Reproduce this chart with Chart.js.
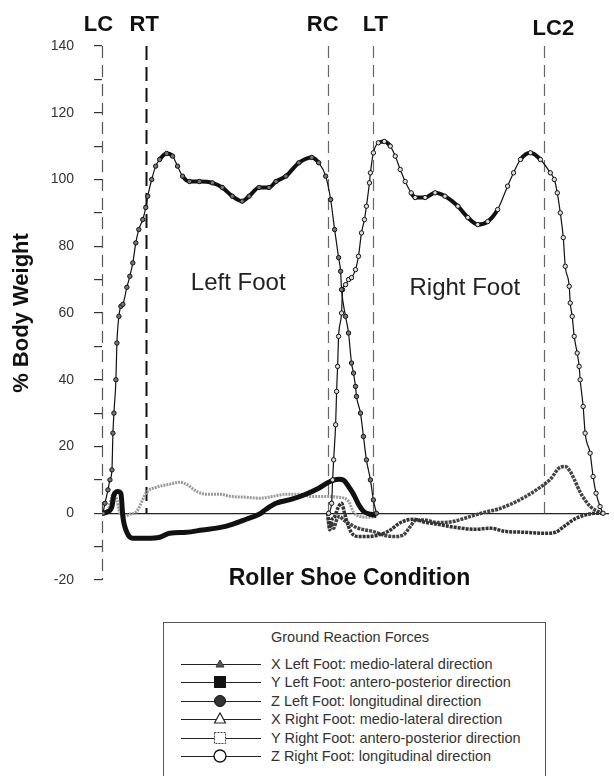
<!DOCTYPE html>
<html>
<head>
<meta charset="utf-8">
<script src="https://cdn.jsdelivr.net/npm/chart.js@4/dist/chart.umd.min.js"></script>
<style>
html,body{margin:0;padding:0;background:#fff;}
#wrap{position:relative;width:614px;height:776px;overflow:hidden;}
#chartBox{position:absolute;left:0;top:0;width:614px;height:776px;}
#legend{position:absolute;left:163px;top:622px;width:383px;height:170px;border:1px solid #555;box-sizing:border-box;
  font-family:'Liberation Sans',Arial,sans-serif;color:#333;font-size:14.5px;background:#fff;}
#legend .ttl{position:absolute;left:107px;top:6px;line-height:16px;white-space:nowrap;}
#legend .row{position:absolute;left:0;height:16px;width:380px;}
#legend .row svg{position:absolute;left:17px;top:0;}
#legend .row span{position:absolute;left:107px;top:0;line-height:16px;white-space:nowrap;}
</style>
</head>
<body>
<div id="wrap">
  <div id="chartBox"><canvas id="c"></canvas></div>
  <div id="legend"><div class="ttl" id="legendTitle"></div></div>
</div>
<script>
// ---------- DATA (frames along the stride, % body weight) ----------
const legendTitle = 'Ground Reaction Forces';
const seriesNames = [
  'X Left Foot: medio-lateral direction',
  'Y Left Foot: antero-posterior direction',
  'Z Left Foot: longitudinal direction',
  'X Right Foot: medio-lateral direction',
  'Y Right Foot: antero-posterior direction',
  'Z Right Foot: longitudinal direction'
];
const yTicks = [-20, 0, 20, 40, 60, 80, 100, 120, 140];
const yTitle = '% Body Weight';
const xTitle = 'Roller Shoe Condition';
const eventNames = ['LC', 'RT', 'RC', 'LT', 'LC2'];
const eventFrames = [0, 22, 113.5, 136.5, 222.5];
const regionNames = ['Left Foot', 'Right Foot'];

const xLeftFrames = [0,3,5,6,7.5,8.5,9.5,11.5,14,17.5,22.5,27.5,34,39,42.5,47.5,52.5,59,65.5,72.5,79,85.5,92.5,99,105.5,112.5,119,124,126.5,130,134,138];
const xLeftValues = [0,1,5,6,4,1,-0.5,-0.8,-0.3,0.6,6.3,7.8,8.7,9.3,8.7,6.6,5.7,5.7,5,4.8,4.5,5,5.7,5.7,5,5,4.8,3.6,0.3,-1,-1.2,-1];

const yLeftFrames = [0,3,5,6,8,9.5,10.5,12.5,15.5,22.5,29,34,42.5,50.5,59,65.5,72.5,79,82.5,87.5,95.5,102.5,109,115,119,121.5,124,126.5,129,131.5,135,138];
const yLeftValues = [0,0.5,2,5.5,6.5,6,-1,-5.7,-7.5,-7.5,-7.2,-6,-5.7,-5,-4.3,-3.3,-1.8,-0.3,1.2,3,4.2,5.7,7.5,9.6,10.2,9.9,8,5.7,2.7,0.6,-0.3,-0.6];

const zLeftFrames = [0.5,1.5,3,4,5,5.5,6,7,7.5,8.5,9.5,10.5,12.5,14,15.5,17,18.5,20.5,22,23,25,27,29,32.5,35.5,38,40.5,44,49,55.5,60.5,65.5,70.5,74,79,84,87.5,92.5,99,105.5,109,112.5,115,117,119,120,120.5,122.5,124,125.5,126.5,127.5,128,130,131.5,133,135,136.5,138];
const zLeftValues = [0,3,7,10,13,24,30,40,51,59,62,62.6,67.7,71,75,81,85,88,91.6,95,100,104,106,107.8,107,104,101,99.4,99.4,99,97.6,95,93.5,95,97.6,97.6,99.4,101,105,106.6,105,101,94,85,76.6,72.5,67,59,54,45,42,38,35,30,23,16,10,4,0];

const xRightFrames = [113.5,114.5,115.5,117,119,120.5,122,124,126.5,130,134,139,144,150.5,156.5,162.5,169,177.5,187.5,195.5,202.5,212.5,222.5,228,232.5,237.5,242.5,249,252];
const xRightValues = [0,-4,-2,-1,2,3,0,-4,-6.5,-7,-7,-6.5,-5.4,-2.7,-1.8,-2.7,-3.3,-4.2,-4.8,-4.5,-5.4,-5.7,-6,-5.7,-3.9,-1.8,-0.6,0,0];

const yRightFrames = [113.5,114.5,115.5,116.5,118,119.5,121.5,124,129,136.5,141.5,146.5,151.5,155,158,161.5,169,176.5,184,192.5,199,205.5,212.5,219,225.5,230.5,233,235.5,237.5,240.5,245.5,250.5,252];
const yRightValues = [0,-5,-3,-4.5,-2,-1,-2,-3,-4.5,-5.5,-6.5,-7,-6.5,-4,-2,-2,-2.8,-2.5,-1.2,0.3,1.2,2.7,4.8,7.2,10.2,13.8,14,12.5,10.2,6.3,2.1,0.3,0];

const zRightFrames = [114,115.5,116,116.5,117.5,118,118.5,119,120.5,121,122.5,124,125.5,127.5,129,130.5,132,133,134.5,135,136.5,139,142,145,147.5,150,152.5,155.5,157.5,162.5,167.5,172.5,179,184,189,194,199,204,207,210.5,215.5,220.5,225.5,227.5,229,230.5,232,233,235,235.5,236.5,237.5,239,240,240.5,242,243,245.5,247,248.5,250.5,252];
const zRightValues = [0,3,10,16,26.5,36.5,44,53,60,67,68.5,70,70.6,73,77,84,88,92,99,102,108,111,111.4,110,107,103,99.4,96,94.6,94.6,96,95,92,88.6,86.5,87.4,91,98,102,106,108,106,102,100,96,90,82.6,74,68,63,59,53,48,44,40,32,24,18,11,6,2,0];

// ---------- STYLE ----------
const FONT = "'Liberation Sans', Arial, sans-serif";
Chart.defaults.font.family = FONT;
const eventStyle = [
  {dx:-3.5, base:31, w:1.2, c:'#555', bottom:-20, dash:[12,7]},
  {dx:-1.5, base:31, w:2,   c:'#111', bottom:0,   dash:[14,7]},
  {dx:-5,   base:31, w:1.2, c:'#666', bottom:0,   dash:[12,7]},
  {dx:2,    base:31, w:1.2, c:'#666', bottom:0,   dash:[12,7]},
  {dx:9,    base:35, w:1.2, c:'#666', bottom:0,   dash:[12,7]}
];
const regionStyle = [{frame:68.5, level:69}, {frame:182.5, level:67.5}];

const pts = (fs, vs) => fs.map((f, i) => ({x: f, y: vs[i]}));
const slopeWidth = (thick, thin) => ctx => {
  const dx = Math.abs(ctx.p1.x - ctx.p0.x), dy = Math.abs(ctx.p1.y - ctx.p0.y);
  return dy < dx * 1.3 ? thick : thin;
};

const datasets = [
  {label: seriesNames[2], data: pts(zLeftFrames, zLeftValues), borderColor:'#111', borderWidth:1.2,
   segment:{borderWidth: slopeWidth(4, 1.2)}, pointRadius:2.2, pointBorderWidth:1,
   pointBackgroundColor:'#777', pointBorderColor:'#111', cubicInterpolationMode:'monotone'},
  {label: seriesNames[5], data: pts(zRightFrames, zRightValues), borderColor:'#111', borderWidth:1.2,
   segment:{borderWidth: slopeWidth(4, 1.2)}, pointRadius:2.2, pointBorderWidth:1,
   pointBackgroundColor:'#ddd', pointBorderColor:'#111', cubicInterpolationMode:'monotone'},
  {label: seriesNames[1], data: pts(yLeftFrames, yLeftValues), borderColor:'#111', borderWidth:5,
   pointRadius:0, cubicInterpolationMode:'monotone'},
  {label: seriesNames[0], data: pts(xLeftFrames, xLeftValues), borderColor:'#9a9a9a', borderWidth:3,
   borderDash:[2,1], pointRadius:0, cubicInterpolationMode:'monotone'},
  {label: seriesNames[3], data: pts(xRightFrames, xRightValues), borderColor:'#333', borderWidth:3.5,
   borderDash:[3,1], pointRadius:0, cubicInterpolationMode:'monotone'},
  {label: seriesNames[4], data: pts(yRightFrames, yRightValues), borderColor:'#444', borderWidth:3.5,
   borderDash:[3,1], pointRadius:0, cubicInterpolationMode:'monotone'}
];

const overlay = {
  id: 'overlay',
  beforeDatasetsDraw(chart) {
    const {ctx, scales: {x, y}} = chart;
    ctx.save();
    eventFrames.forEach((f, i) => {
      const st = eventStyle[i];
      const px = Math.round(x.getPixelForValue(f)) + 0.5;
      ctx.beginPath();
      ctx.setLineDash(st.dash);
      ctx.lineWidth = st.w;
      ctx.strokeStyle = st.c;
      ctx.moveTo(px, y.getPixelForValue(140));
      ctx.lineTo(px, y.getPixelForValue(st.bottom));
      ctx.stroke();
    });
    ctx.restore();
  },
  afterDraw(chart) {
    const {ctx, chartArea, scales: {x, y}} = chart;
    ctx.save();
    ctx.fillStyle = '#111';
    ctx.textAlign = 'center';
    ctx.textBaseline = 'alphabetic';
    ctx.font = 'bold 22px ' + FONT;
    eventFrames.forEach((f, i) => {
      ctx.fillText(eventNames[i], x.getPixelForValue(f) + eventStyle[i].dx, eventStyle[i].base);
    });
    ctx.font = '24px ' + FONT;
    ctx.fillStyle = '#222';
    ctx.textBaseline = 'middle';
    regionNames.forEach((t, i) => {
      ctx.fillText(t, x.getPixelForValue(regionStyle[i].frame), y.getPixelForValue(regionStyle[i].level));
    });
    ctx.font = 'bold 23px ' + FONT;
    ctx.fillStyle = '#111';
    ctx.textBaseline = 'alphabetic';
    ctx.fillText(xTitle, (chartArea.left + chartArea.right) / 2 - 6, chartArea.bottom + 5);
    ctx.restore();
  }
};

new Chart(document.getElementById('c'), {
  type: 'line',
  data: {datasets},
  options: {
    animation: false,
    responsive: true,
    maintainAspectRatio: false,
    layout: {padding: {left: 0, top: 46, right: 2, bottom: 196}},
    plugins: {legend: {display: false}, tooltip: {enabled: false}},
    scales: {
      x: {type: 'linear', min: 0, max: 255, display: false},
      y: {
        min: -20, max: 140,
        afterFit(s) { s.width = 102; },
        ticks: {stepSize: 10, color: '#333', padding: 20, font: {size: 14},
                callback: v => yTicks.includes(v) ? String(v) : ''},
        grid: {drawOnChartArea: true, tickLength: 8, tickColor: '#333', tickWidth: 1.2, lineWidth: 1.2,
               color: c => (c.tick && c.tick.value === 0) ? '#222' : 'rgba(0,0,0,0)'},
        border: {display: false},
        title: {display: true, text: yTitle, color: '#111', font: {size: 22, weight: 'bold'},
                padding: {top: 9, bottom: 0}}
      }
    }
  },
  plugins: [overlay]
});

// ---------- HTML legend ----------
document.getElementById('legendTitle').textContent = legendTitle;
const markerSvg = [
  '<polygon points="39,4 35,11 43,11" fill="#555" stroke="#333" stroke-width="1"/>',
  '<rect x="33" y="2" width="12" height="12" fill="#111"/>',
  '<circle cx="39" cy="8" r="5.5" fill="#333" stroke="#111"/>',
  '<polygon points="39,2 33.5,12 44.5,12" fill="#fff" stroke="#222" stroke-width="1.2"/>',
  '<rect x="33.5" y="2.5" width="11" height="11" fill="#fff" stroke="#444" stroke-width="1" stroke-dasharray="2,1"/>',
  '<circle cx="39" cy="8" r="6" fill="#fff" stroke="#111" stroke-width="1.3"/>'
];
const legendEl = document.getElementById('legend');
seriesNames.forEach((name, i) => {
  const row = document.createElement('div');
  row.className = 'row';
  row.style.top = (33 + i * 18.4) + 'px';
  row.innerHTML = '<svg width="80" height="16" viewBox="0 0 80 16"><line x1="0" y1="8.5" x2="80" y2="8.5" stroke="#222" stroke-width="1"/>' +
    markerSvg[i] + '</svg>';
  const sp = document.createElement('span');
  sp.textContent = name;
  row.appendChild(sp);
  legendEl.appendChild(row);
});
</script>
</body>
</html>
